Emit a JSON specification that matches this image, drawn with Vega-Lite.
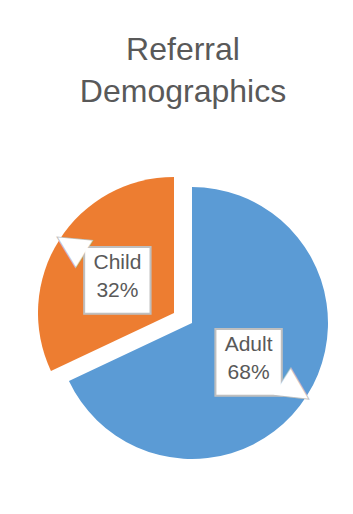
{
  "$schema": "https://vega.github.io/schema/vega-lite/v6.json",
  "width": 272,
  "height": 272,
  "autosize": {"type": "none"},
  "padding": {"left": 56, "top": 187, "right": 25, "bottom": 55},
  "background": "white",
  "title": {
    "text": ["Referral", "Demographics"],
    "fontSize": 32,
    "font": "Liberation Sans",
    "fontWeight": "normal",
    "color": "#595959",
    "lineHeight": 42,
    "anchor": "middle",
    "baseline": "bottom",
    "dx": -9,
    "offset": 36
  },
  "data": {
    "values": [
      {"category": "Adult", "share": 0.68},
      {"category": "Child", "share": 0.32}
    ]
  },
  "encoding": {
    "theta": {"field": "share", "type": "quantitative", "stack": true, "scale": {"domain": [0, 1]}},
    "order": {"field": "category"},
    "detail": {"field": "category"}
  },
  "layer": [
    {
      "mark": {"type": "arc"},
      "encoding": {
        "color": {"field": "category", "type": "nominal", "legend": null, "scale": {"domain": ["Adult", "Child"], "range": ["#5B9BD5", "#ED7D31"]}},
        "opacity": {"condition": {"test": "datum.category === 'Adult'", "value": 1}, "value": 0}
      }
    },
    {
      "mark": {"type": "arc", "xOffset": -18, "yOffset": -10},
      "encoding": {
        "color": {"field": "category", "type": "nominal", "legend": null},
        "opacity": {"condition": {"test": "datum.category === 'Child'", "value": 1}, "value": 0}
      }
    },
    {
      "mark": {"type": "text", "text": "▶", "font": "DejaVu Sans", "fontSize": 40, "radius": 123, "angle": 33, "fill": "white", "stroke": "#BFBFBF", "strokeWidth": 2, "align": "center", "baseline": "middle"},
      "encoding": {"opacity": {"condition": {"test": "datum.category === 'Adult'", "value": 1}, "value": 0}}
    },
    {
      "mark": {"type": "text", "xOffset": -18, "yOffset": -10, "text": "▶", "font": "DejaVu Sans", "fontSize": 40, "radius": 123, "angle": 212, "fill": "white", "stroke": "#BFBFBF", "strokeWidth": 2, "align": "center", "baseline": "middle"},
      "encoding": {"opacity": {"condition": {"test": "datum.category === 'Child'", "value": 1}, "value": 0}}
    },
    {
      "mark": {"type": "text", "text": "■", "font": "DejaVu Sans", "fontSize": 87, "radius": 67, "fill": "white", "stroke": "#BFBFBF", "strokeWidth": 2, "align": "center", "baseline": "middle"},
      "encoding": {"opacity": {"condition": {"test": "datum.category === 'Adult'", "value": 1}, "value": 0}}
    },
    {
      "mark": {"type": "text", "xOffset": -18, "yOffset": -10, "text": "■", "font": "DejaVu Sans", "fontSize": 87, "radius": 67, "fill": "white", "stroke": "#BFBFBF", "strokeWidth": 2, "align": "center", "baseline": "middle"},
      "encoding": {"opacity": {"condition": {"test": "datum.category === 'Child'", "value": 1}, "value": 0}}
    },
    {
      "mark": {"type": "text", "text": "▶", "font": "DejaVu Sans", "fontSize": 40, "radius": 123, "angle": 33, "fill": "white", "align": "center", "baseline": "middle"},
      "encoding": {"opacity": {"condition": {"test": "datum.category === 'Adult'", "value": 1}, "value": 0}}
    },
    {
      "mark": {"type": "text", "xOffset": -18, "yOffset": -10, "text": "▶", "font": "DejaVu Sans", "fontSize": 40, "radius": 123, "angle": 212, "fill": "white", "align": "center", "baseline": "middle"},
      "encoding": {"opacity": {"condition": {"test": "datum.category === 'Child'", "value": 1}, "value": 0}}
    },
    {
      "mark": {"type": "text", "font": "Liberation Sans", "fontSize": 21, "radius": 67, "dy": -14, "color": "#595959", "align": "center", "baseline": "middle"},
      "encoding": {
        "text": {"field": "category", "type": "nominal"},
        "opacity": {"condition": {"test": "datum.category === 'Adult'", "value": 1}, "value": 0}
      }
    },
    {
      "mark": {"type": "text", "font": "Liberation Sans", "fontSize": 21, "radius": 67, "dy": 14, "color": "#595959", "align": "center", "baseline": "middle"},
      "encoding": {
        "text": {"field": "share", "type": "quantitative", "format": ".0%"},
        "opacity": {"condition": {"test": "datum.category === 'Adult'", "value": 1}, "value": 0}
      }
    },
    {
      "mark": {"type": "text", "xOffset": -18, "yOffset": -10, "font": "Liberation Sans", "fontSize": 21, "radius": 67, "dy": -14, "color": "#595959", "align": "center", "baseline": "middle"},
      "encoding": {
        "text": {"field": "category", "type": "nominal"},
        "opacity": {"condition": {"test": "datum.category === 'Child'", "value": 1}, "value": 0}
      }
    },
    {
      "mark": {"type": "text", "xOffset": -18, "yOffset": -10, "font": "Liberation Sans", "fontSize": 21, "radius": 67, "dy": 14, "color": "#595959", "align": "center", "baseline": "middle"},
      "encoding": {
        "text": {"field": "share", "type": "quantitative", "format": ".0%"},
        "opacity": {"condition": {"test": "datum.category === 'Child'", "value": 1}, "value": 0}
      }
    }
  ],
  "config": {
    "view": {"stroke": null}
  }
}
